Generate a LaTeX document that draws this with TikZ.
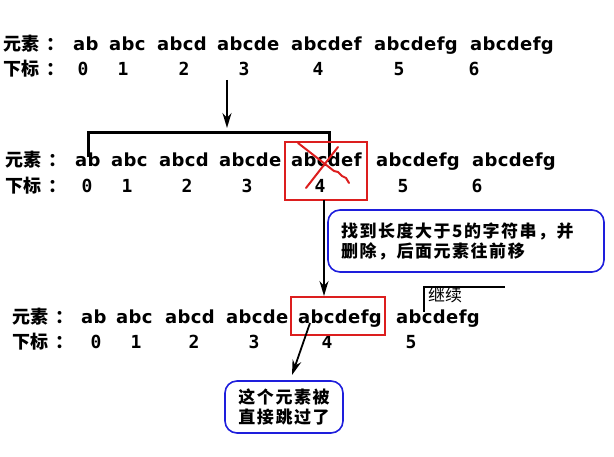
\documentclass[tikz,border=0pt]{standalone}
\usepackage{fontspec}
\usetikzlibrary{arrows.meta}
\newfontfamily\latfont{DejaVu Sans}[LetterSpace=2]
\newfontfamily\monofont{DejaVu Sans Mono}
\newfontfamily\cjkfont{Noto Sans CJK SC}
\newfontfamily\cjknote{Noto Sans CJK SC}[LetterSpace=9]
\definecolor{boxred}{RGB}{220,30,30}
\definecolor{noteblue}{RGB}{30,30,220}
\newcommand\rowlab[1]{#1\hspace{7pt}：}
\begin{document}
\begin{tikzpicture}[x=1pt,y=-1pt,
  elem/.style={font=\latfont\bfseries\fontsize{18}{18}\selectfont, inner sep=0pt, anchor=base west},
  idx/.style={font=\monofont\bfseries\fontsize{18}{18}\selectfont, inner sep=0pt, anchor=base},
  lab/.style={font=\cjkfont\bfseries\fontsize{18}{18}\selectfont, inner sep=0pt, anchor=base west},
  redbox/.style={draw=boxred, line width=2pt},
  note/.style={draw=noteblue, line width=1.6pt, rounded corners=12pt, inner sep=0pt,
    font=\cjknote\bfseries\fontsize{17}{20}\selectfont},
  arr/.style={-{Stealth[length=15pt,width=9pt]}, line width=1.8pt}]
\useasboundingbox (0,0) rectangle (614,457);
% Dòng 1: mảng ban đầu
\node[lab] (l1) at (3,51) {\rowlab{元素}};
\node[lab] (k1) at (3,76) {\rowlab{下标}};
\foreach \s/\x [count=\i from 0] in {ab/73,abc/109,abcd/157,abcde/217,abcdef/291,abcdefg/374,abcdefg/470}
  {\node[elem] (e1-\i) at (\x,51) {\s};}
\foreach \x [count=\i from 0] in {83,123,184,244,318,399,474}
  {\node[idx] (i1-\i) at (\x,76) {\i};}
% Mũi tên xuống và ngoặc
\coordinate (a1s) at (227,80);
\coordinate (a1e) at (227,128);
\draw[arr] (a1s) -- (a1e);
\coordinate (brl) at (88,157);
\coordinate (brr) at (329,162);
\draw[line width=3pt] (brl) -- (88,133) -- (329,133) -- (brr);
% Dòng 2: tìm thấy phần tử cần xóa
\node[lab] (l2) at (5,167) {\rowlab{元素}};
\node[lab] (k2) at (5,193) {\rowlab{下标}};
\foreach \s/\x [count=\i from 0] in {ab/75,abc/111,abcd/159,abcde/219,abcdef/291,abcdefg/376,abcdefg/472}
  {\node[elem] (e2-\i) at (\x,167) {\s};}
\foreach \x [count=\i from 0] in {87,127,187,247,320,403,477}
  {\node[idx] (i2-\i) at (\x,193) {\i};}
\node[redbox, minimum width=82, minimum height=58] (box2) at (326,171) {};
% Dấu gạch chéo
\draw[boxred, line width=2pt, line cap=round] (298,143) -- (334,171) -- (338,172) -- (342,176) -- (346,178) -- (349,183);
\draw[boxred, line width=2pt, line cap=round] (338,147) -- (306,188);
% Ghi chú 1
\node[note, minimum width=276, minimum height=62, text width=250, align=left] (n1) at (466,241)
  {找到长度大于5的字符串，并\\删除，后面元素往前移};
\coordinate (a2s) at (324,200);
% Dòng 3: sau khi xóa
\node[lab] (l3) at (12,324) {\rowlab{元素}};
\node[lab] (k3) at (12,349) {\rowlab{下标}};
\foreach \s/\x [count=\i from 0] in {ab/81,abc/116,abcd/165,abcde/226,abcdefg/298,abcdefg/396}
  {\node[elem] (e3-\i) at (\x,324) {\s};}
\foreach \x [count=\i from 0] in {96,136,194,254,327,411}
  {\node[idx] (i3-\i) at (\x,349) {\i};}
\node[redbox, minimum width=94, minimum height=38] (box3) at (338,316) {};
\draw[arr] (a2s) -- (a2s |- box3.north);
% Tiếp tục
\node[font=\cjkfont\fontsize{17}{17}\selectfont, inner sep=0pt] (go) at (445,295) {继续};
\coordinate (gos) at (424,312);
\draw[line width=2pt] (gos) -- (424,287) -- (505,287);
% Ghi chú 2
\node[note, minimum width=118, minimum height=52, align=center] (n2) at (284,407)
  {这个元素被\\直接跳过了};
\coordinate (a3s) at (310,323);
\coordinate (a3e) at (292,375);
\draw[arr] (a3s) -- (a3e);
\end{tikzpicture}
\end{document}
